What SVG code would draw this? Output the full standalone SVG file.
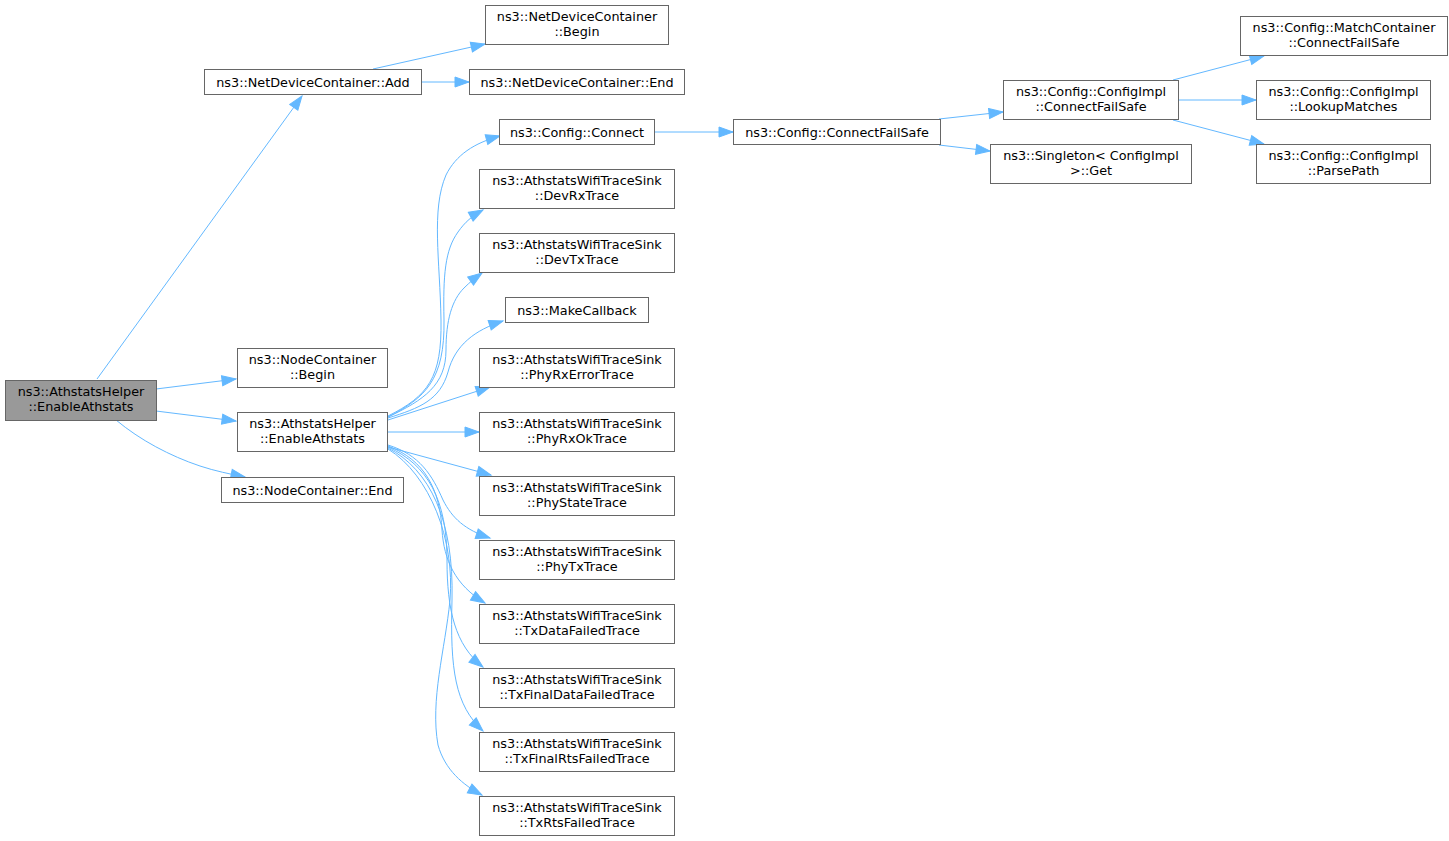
<svg xmlns="http://www.w3.org/2000/svg" width="1449" height="841" viewBox="0 0 1449 841">
<style>
.n rect{fill:#ffffff;stroke:#666666;stroke-width:1}
.n.root rect{fill:#999999}
.n text{font-family:"DejaVu Sans","Liberation Sans",sans-serif;font-size:12.8px;fill:#000000;text-anchor:middle}
.e path{fill:none;stroke:#63b8ff;stroke-width:1}
</style>
<defs>
<marker id="ah" markerUnits="userSpaceOnUse" markerWidth="16" markerHeight="12" refX="14" refY="5" orient="auto" overflow="visible">
<path d="M0,0 L14,5 L0,10 z" fill="#63b8ff" stroke="#63b8ff" stroke-width="1"/>
</marker>
</defs>
<rect width="1449" height="841" fill="#ffffff"/>
<g id="connectors" class="e">
<path marker-end="url(#ah)" d="M97,379 L302,96"/>
<path marker-end="url(#ah)" d="M156,389 L236,379"/>
<path marker-end="url(#ah)" d="M156,411 L236,421"/>
<path marker-end="url(#ah)" d="M116,420 C140,440 170,456 200,466 C215,471 230,474 245,477"/>
<path marker-end="url(#ah)" d="M373,69 L485,44"/>
<path marker-end="url(#ah)" d="M422,82 L469,82"/>
<path marker-end="url(#ah)" d="M655,132 L733,132"/>
<path marker-end="url(#ah)" d="M939,119 L1003,112"/>
<path marker-end="url(#ah)" d="M939,145 L990,151"/>
<path marker-end="url(#ah)" d="M1173,80 L1264,56"/>
<path marker-end="url(#ah)" d="M1179,100 L1256,100"/>
<path marker-end="url(#ah)" d="M1173,120 L1264,144"/>
<path marker-end="url(#ah)" d="M388,416 C428,396 442,378 441,320 C440,260 431,210 446,175 C456,155 474,143 500,136"/>
<path marker-end="url(#ah)" d="M388,417 C425,398 445,380 444,320 C443,275 445,250 458,232 C465,222 472,216 483,210"/>
<path marker-end="url(#ah)" d="M388,417 C424,400 446,385 446,350 C446,320 452,300 464,288 C470,282 475,278 482,273"/>
<path marker-end="url(#ah)" d="M388,418 C420,408 440,400 448,372 C455,345 475,330 503,321"/>
<path marker-end="url(#ah)" d="M388,420 L490,387"/>
<path marker-end="url(#ah)" d="M388,432 L479,432"/>
<path marker-end="url(#ah)" d="M388,447 L491,475"/>
<path marker-end="url(#ah)" d="M388,445 C420,455 432,475 443,500 C452,518 465,530 490,538"/>
<path marker-end="url(#ah)" d="M388,446 C425,460 440,490 442,530 C444,560 455,585 485,603"/>
<path marker-end="url(#ah)" d="M388,447 C428,465 447,500 447,560 C447,610 455,645 483,667"/>
<path marker-end="url(#ah)" d="M388,448 C430,470 454,520 452,600 C450,670 455,705 483,731"/>
<path marker-end="url(#ah)" d="M388,449 C430,475 455,540 450,600 C445,650 430,700 438,745 C445,770 463,785 482,795"/>
</g>
<g id="root" class="n root"><rect x="5.5" y="380.5" width="151" height="40"/><text x="81" y="396">ns3::AthstatsHelper</text><text x="81" y="411">::EnableAthstats</text></g>
<g id="ndcAdd" class="n"><rect x="204.5" y="69.5" width="217" height="25"/><text x="313" y="87">ns3::NetDeviceContainer::Add</text></g>
<g id="ndcBegin" class="n"><rect x="485.5" y="5.5" width="183" height="39"/><text x="577" y="21">ns3::NetDeviceContainer</text><text x="577" y="36">::Begin</text></g>
<g id="ndcEnd" class="n"><rect x="469.5" y="69.5" width="215" height="25"/><text x="577" y="87">ns3::NetDeviceContainer::End</text></g>
<g id="cfgConnect" class="n"><rect x="499.5" y="119.5" width="155" height="25"/><text x="577" y="137">ns3::Config::Connect</text></g>
<g id="devRx" class="n"><rect x="479.5" y="169.5" width="195" height="39"/><text x="577" y="185">ns3::AthstatsWifiTraceSink</text><text x="577" y="200">::DevRxTrace</text></g>
<g id="devTx" class="n"><rect x="479.5" y="233.5" width="195" height="39"/><text x="577" y="249">ns3::AthstatsWifiTraceSink</text><text x="577" y="264">::DevTxTrace</text></g>
<g id="makeCb" class="n"><rect x="505.5" y="297.5" width="143" height="25"/><text x="577" y="315">ns3::MakeCallback</text></g>
<g id="phyRxErr" class="n"><rect x="479.5" y="348.5" width="195" height="39"/><text x="577" y="364">ns3::AthstatsWifiTraceSink</text><text x="577" y="379">::PhyRxErrorTrace</text></g>
<g id="phyRxOk" class="n"><rect x="479.5" y="412.5" width="195" height="39"/><text x="577" y="428">ns3::AthstatsWifiTraceSink</text><text x="577" y="443">::PhyRxOkTrace</text></g>
<g id="phyState" class="n"><rect x="479.5" y="476.5" width="195" height="39"/><text x="577" y="492">ns3::AthstatsWifiTraceSink</text><text x="577" y="507">::PhyStateTrace</text></g>
<g id="phyTx" class="n"><rect x="479.5" y="540.5" width="195" height="39"/><text x="577" y="556">ns3::AthstatsWifiTraceSink</text><text x="577" y="571">::PhyTxTrace</text></g>
<g id="txData" class="n"><rect x="479.5" y="604.5" width="195" height="39"/><text x="577" y="620">ns3::AthstatsWifiTraceSink</text><text x="577" y="635">::TxDataFailedTrace</text></g>
<g id="txFinalData" class="n"><rect x="479.5" y="668.5" width="195" height="39"/><text x="577" y="684">ns3::AthstatsWifiTraceSink</text><text x="577" y="699">::TxFinalDataFailedTrace</text></g>
<g id="txFinalRts" class="n"><rect x="479.5" y="732.5" width="195" height="39"/><text x="577" y="748">ns3::AthstatsWifiTraceSink</text><text x="577" y="763">::TxFinalRtsFailedTrace</text></g>
<g id="txRts" class="n"><rect x="479.5" y="796.5" width="195" height="39"/><text x="577" y="812">ns3::AthstatsWifiTraceSink</text><text x="577" y="827">::TxRtsFailedTrace</text></g>
<g id="ncBegin" class="n"><rect x="237.5" y="348.5" width="150" height="39"/><text x="312.5" y="364">ns3::NodeContainer</text><text x="312.5" y="379">::Begin</text></g>
<g id="athEnable" class="n"><rect x="237.5" y="412.5" width="150" height="39"/><text x="312.5" y="428">ns3::AthstatsHelper</text><text x="312.5" y="443">::EnableAthstats</text></g>
<g id="ncEnd" class="n"><rect x="221.5" y="477.5" width="182" height="25"/><text x="312.5" y="495">ns3::NodeContainer::End</text></g>
<g id="cfgConnectFailSafe" class="n"><rect x="733.5" y="119.5" width="207" height="25"/><text x="837" y="137">ns3::Config::ConnectFailSafe</text></g>
<g id="implConnectFailSafe" class="n"><rect x="1003.5" y="80.5" width="175" height="39"/><text x="1091" y="96">ns3::Config::ConfigImpl</text><text x="1091" y="111">::ConnectFailSafe</text></g>
<g id="singletonGet" class="n"><rect x="990.5" y="144.5" width="201" height="39"/><text x="1091" y="160">ns3::Singleton&lt; ConfigImpl</text><text x="1091" y="175">&gt;::Get</text></g>
<g id="matchConnectFailSafe" class="n"><rect x="1240.5" y="16.5" width="207" height="39"/><text x="1344" y="32">ns3::Config::MatchContainer</text><text x="1344" y="47">::ConnectFailSafe</text></g>
<g id="lookupMatches" class="n"><rect x="1256.5" y="80.5" width="174" height="39"/><text x="1343.5" y="96">ns3::Config::ConfigImpl</text><text x="1343.5" y="111">::LookupMatches</text></g>
<g id="parsePath" class="n"><rect x="1256.5" y="144.5" width="174" height="39"/><text x="1343.5" y="160">ns3::Config::ConfigImpl</text><text x="1343.5" y="175">::ParsePath</text></g>
</svg>
